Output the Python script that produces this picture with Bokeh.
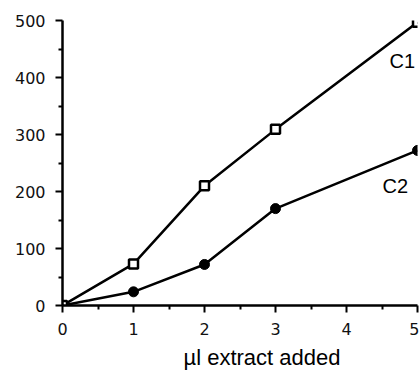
from bokeh.plotting import figure
from bokeh.models import Range1d, Label, FixedTicker, Title
from bokeh.embed import file_html
from bokeh.resources import INLINE

x_vals = [0, 1, 2, 3, 5]
c1 = [0, 73, 210, 309, 497]
c2 = [0, 24, 72, 170, 272]
x_ticks = [0, 1, 2, 3, 4, 5]
y_ticks = [0, 100, 200, 300, 400, 500]
series_labels = ["C1", "C2"]
x_title = "µl extract added"

p = figure(width=419, height=375, output_backend="svg", toolbar_location=None,
           x_range=Range1d(0, 5), y_range=Range1d(0, 500),
           min_border_left=62, min_border_right=2, min_border_top=20, min_border_bottom=6)
p.outline_line_color = None
p.grid.visible = False
p.background_fill_color = "white"
p.border_fill_color = "white"

for ax in (p.xaxis[0], p.yaxis[0]):
    ax.axis_line_width = 2.5
    ax.axis_line_color = "black"
    ax.major_tick_line_width = 2
    ax.minor_tick_line_width = 2
    ax.major_tick_out = 7
    ax.major_tick_in = 0
    ax.minor_tick_out = 4
    ax.minor_tick_in = 0
    ax.major_label_text_font = "DejaVu Sans"
    ax.major_label_text_font_size = "16px"
    ax.major_label_text_color = "#111111"
    ax.major_label_standoff = 10

p.xaxis.ticker = FixedTicker(ticks=x_ticks, minor_ticks=[0.5, 1.5, 2.5, 3.5, 4.5])
p.yaxis.ticker = FixedTicker(ticks=y_ticks, minor_ticks=[50, 150, 250, 350, 450])

p.line(x_vals, c1, line_color="black", line_width=2.5)
p.line(x_vals, c2, line_color="black", line_width=2.5)
p.scatter(x_vals, c2, marker="circle", size=10, fill_color="black", line_color="black")
p.scatter(x_vals, c1, marker="square", size=9, fill_color="white", line_color="black", line_width=2.5)

p.add_layout(Label(x=x_vals[-1], y=c1[-1], text=series_labels[0], x_offset=-28, y_offset=-50,
                   text_font="Liberation Sans", text_font_size="20px", text_color="black"))
p.add_layout(Label(x=x_vals[-1], y=c2[-1], text=series_labels[1], x_offset=-35, y_offset=-47,
                   text_font="Liberation Sans", text_font_size="20px", text_color="black"))

p.add_layout(Title(text=x_title, align="left", offset=121, standoff=11,
                   text_font="Liberation Sans", text_font_size="22px",
                   text_font_style="normal", text_color="black"), "below")

open("out.html", "w").write(file_html(p, INLINE))
